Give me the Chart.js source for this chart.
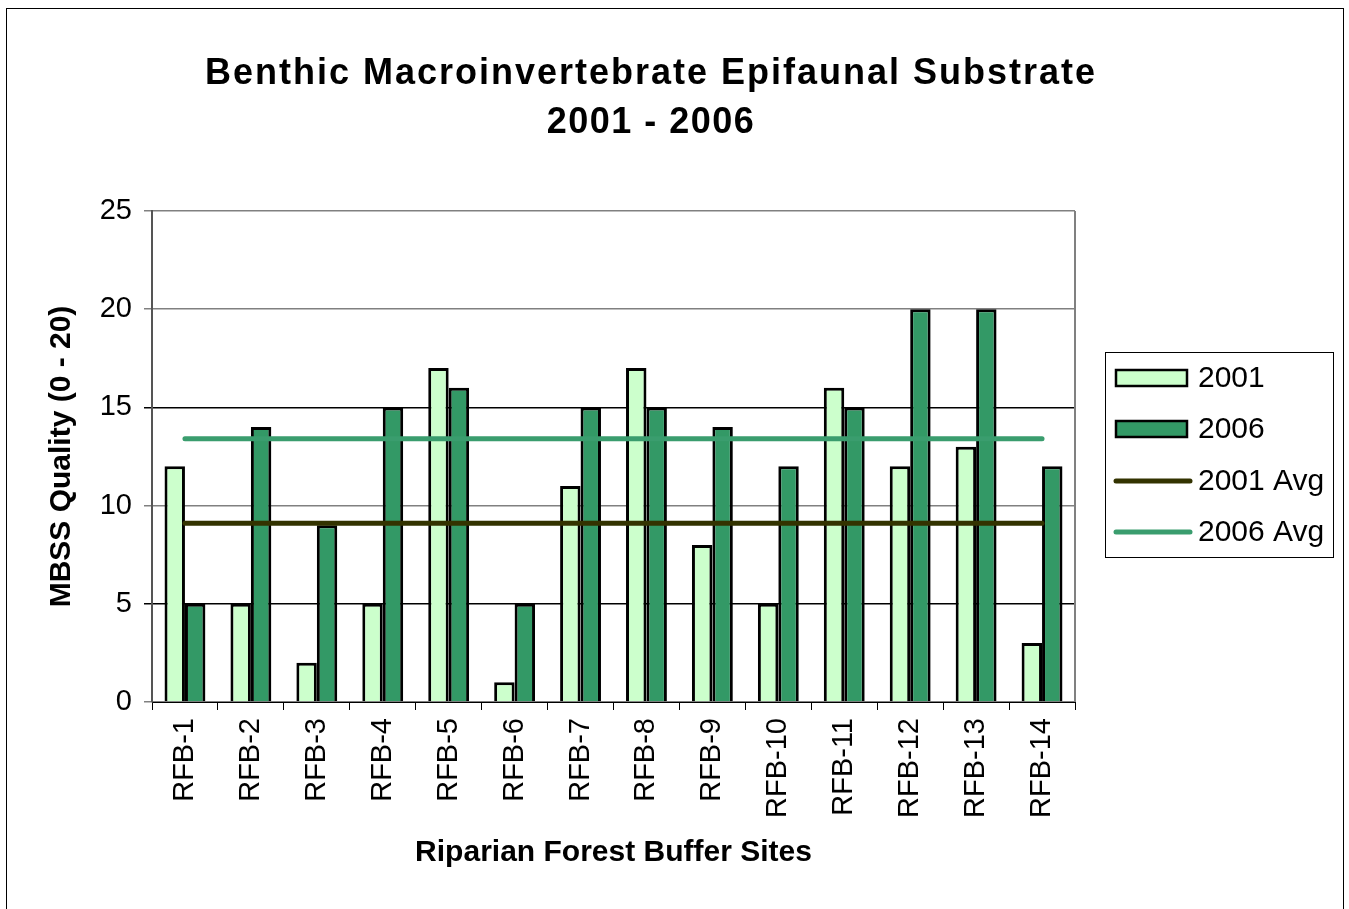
<!DOCTYPE html>
<html>
<head>
<meta charset="utf-8">
<script src="https://cdn.jsdelivr.net/npm/chart.js@4/dist/chart.umd.min.js"></script>
<style>
  html, body { margin: 0; padding: 0; background: #fff; }
  #wrap { width: 1349px; height: 909px; position: relative; }
</style>
</head>
<body>
<div id="wrap"><canvas id="chart" width="1349" height="909"></canvas></div>
<script>
// data
const sites = ['RFB-1', 'RFB-2', 'RFB-3', 'RFB-4', 'RFB-5', 'RFB-6', 'RFB-7',
               'RFB-8', 'RFB-9', 'RFB-10', 'RFB-11', 'RFB-12', 'RFB-13', 'RFB-14'];
const values2001 = [12, 5, 2, 5, 17, 1, 11, 17, 8, 5, 16, 12, 13, 3];
const values2006 = [5, 14, 9, 15, 16, 5, 15, 15, 14, 12, 15, 20, 20, 12];
const avg2001 = [9.1, 9.1, 9.1, 9.1, 9.1, 9.1, 9.1, 9.1, 9.1, 9.1, 9.1, 9.1, 9.1, 9.1];
const avg2006 = [13.4, 13.4, 13.4, 13.4, 13.4, 13.4, 13.4, 13.4, 13.4, 13.4, 13.4, 13.4, 13.4, 13.4];
const yTicks = [0, 5, 10, 15, 20, 25];

const FONT = '"Liberation Sans", Arial, sans-serif';

// frame, title, plot border and legend box
const decorPlugin = {
    id: 'decor',
    beforeDraw(chart) {
        const c = chart.ctx;
        c.save();
        c.fillStyle = '#fff';
        c.fillRect(0, 0, chart.width, chart.height);
        c.strokeStyle = '#000';
        c.lineWidth = 1;
        c.strokeRect(6.5, 8.5, 1337, 920);
        c.restore();
    },
    afterDatasetsDraw(chart) {
        const c = chart.ctx;
        const a = chart.chartArea;
        c.save();
        // right border of plot
        c.strokeStyle = '#808080';
        c.lineWidth = 2;
        c.beginPath();
        c.moveTo(a.right, a.top);
        c.lineTo(a.right, a.bottom);
        c.stroke();
        c.restore();
    },
    afterDraw(chart) {
        const c = chart.ctx;
        c.save();
        // title
        c.fillStyle = '#000';
        c.textAlign = 'center';
        c.textBaseline = 'middle';
        c.font = 'bold 36px ' + FONT;
        c.letterSpacing = '2px';
        c.fillText('Benthic Macroinvertebrate Epifaunal Substrate', 651, 74);
        c.letterSpacing = '1.5px';
        c.fillText('2001 - 2006', 651, 123);
        c.letterSpacing = '0px';

        // legend
        c.strokeStyle = '#000';
        c.lineWidth = 1;
        c.strokeRect(1105.5, 352.5, 228, 205);
        c.font = '30px ' + FONT;
        c.textAlign = 'left';
        const ds = chart.data.datasets;
        const rows = [378, 429, 481, 532];
        ds.forEach((d, i) => {
            const y = rows[i];
            if (d.type === 'line') {
                c.strokeStyle = d.borderColor;
                c.lineWidth = 5;
                c.lineCap = 'round';
                c.beginPath();
                c.moveTo(1116, y);
                c.lineTo(1190, y);
                c.stroke();
            } else {
                c.fillStyle = d.backgroundColor;
                c.fillRect(1116, y - 8, 71, 16);
                c.strokeStyle = '#000';
                c.lineWidth = 2.5;
                c.strokeRect(1116, y - 8, 71, 16);
            }
            c.fillStyle = '#000';
            c.fillText(d.label, 1198, y + 1);
        });
        c.restore();
    }
};

new Chart(document.getElementById('chart'), {
    data: {
        labels: sites,
        datasets: [{
            type: 'bar',
            label: '2001',
            data: values2001,
            backgroundColor: '#CCFFCC',
            borderColor: '#000',
            borderWidth: 3,
            categoryPercentage: 0.62,
            barPercentage: 1.0,
            order: 2
        }, {
            type: 'bar',
            label: '2006',
            data: values2006,
            backgroundColor: '#339966',
            borderColor: '#000',
            borderWidth: 3,
            categoryPercentage: 0.62,
            barPercentage: 1.0,
            order: 2
        }, {
            type: 'line',
            label: '2001 Avg',
            data: avg2001,
            borderColor: '#333300',
            borderWidth: 5,
            pointRadius: 0,
            borderCapStyle: 'round',
            order: 1
        }, {
            type: 'line',
            label: '2006 Avg',
            data: avg2006,
            borderColor: '#3A9D6E',
            borderWidth: 5,
            pointRadius: 0,
            borderCapStyle: 'round',
            order: 1
        }]
    },
    options: {
        responsive: false,
        animation: false,
        layout: {
            padding: { left: 40, right: 274, top: 211, bottom: 0 }
        },
        plugins: {
            legend: { display: false },
            tooltip: { enabled: false },
            title: { display: false }
        },
        scales: {
            x: {
                afterFit(scale) { scale.height = 207; },
                grid: {
                    offset: true,
                    drawOnChartArea: false,
                    drawTicks: true,
                    tickLength: 8,
                    color: '#000'
                },
                border: { color: '#000', width: 1 },
                ticks: {
                    color: '#000',
                    font: { family: FONT, size: 29 },
                    maxRotation: 90,
                    minRotation: 90,
                    padding: 8,
                    autoSkip: false
                },
                title: {
                    display: true,
                    text: 'Riparian Forest Buffer Sites',
                    color: '#000',
                    font: { family: FONT, size: 30, weight: 'bold' },
                    padding: { top: 0, bottom: 38 }
                }
            },
            y: {
                min: 0,
                max: 25,
                afterFit(scale) { scale.width = 112; },
                afterBuildTicks(scale) {
                    scale.ticks = yTicks.map(v => ({ value: v }));
                },
                grid: {
                    color(ctx) {
                        const v = ctx.tick ? ctx.tick.value : 0;
                        return (v === 5 || v === 15) ? '#000' : '#808080';
                    },
                    lineWidth: 1.5,
                    tickLength: 8
                },
                border: { color: '#555', width: 2 },
                ticks: {
                    color: '#000',
                    font: { family: FONT, size: 29 },
                    padding: 12
                },
                title: {
                    display: true,
                    text: 'MBSS Quality (0 - 20)',
                    color: '#000',
                    font: { family: FONT, size: 30, weight: 'bold' },
                    padding: { top: 4, bottom: 0 }
                }
            }
        }
    },
    plugins: [decorPlugin]
});
</script>
</body>
</html>
